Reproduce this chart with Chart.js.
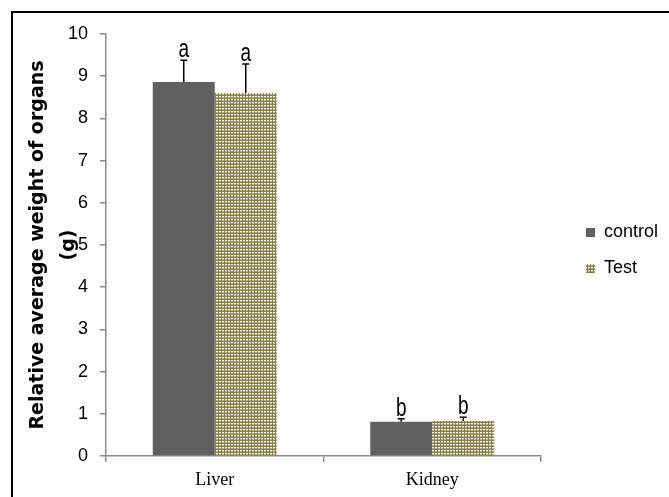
<!DOCTYPE html>
<html>
<head>
<meta charset="utf-8">
<script src="https://cdn.jsdelivr.net/npm/chart.js@4/dist/chart.umd.min.js"></script>
<style>
  html, body { margin: 0; padding: 0; background: #fff; overflow: hidden; }
  #moldura { position: absolute; left: 11px; top: 11px; width: 720px; height: 600px; border: 2px solid #000; }
  #caixa { position: absolute; left: 0; top: 0; width: 669px; height: 497px; }
</style>
</head>
<body>
<div id="moldura"></div>
<div id="caixa"><canvas id="grafico"></canvas></div>
<script>
// ------------------------
// Dados
// ------------------------

const categorias = ['Liver', 'Kidney'];
const valoresControl = [8.86, 0.81];
const valoresTest = [8.60, 0.83];
const errosControl = [0.52, 0.07];
const errosTest = [0.69, 0.09];
const letrasControl = ['a', 'b'];
const letrasTest = ['a', 'b'];
const tituloY = ['Relative average weight of organs', '(g)'];

// ------------------------
// Padrão pontilhado da série Test
// ------------------------

function criarPadrao() {
  const c = document.createElement('canvas');
  c.width = 3;
  c.height = 3;
  const g = c.getContext('2d');
  g.fillStyle = '#8a7f48';
  g.fillRect(0, 0, 3, 3);
  g.fillStyle = '#ffffff';
  g.fillRect(0, 0, 2, 1);
  g.fillStyle = '#b7af86';
  g.fillRect(0, 1, 2, 1);
  return g.createPattern(c, 'repeat');
}

const padraoTest = criarPadrao();

// ------------------------
// Barras de erro + letras
// ------------------------

const pluginErros = {
  id: 'barrasErro',
  afterInit(chart) {
    // legenda ocupa toda a faixa à direita
    const lg = chart.legend;
    const fitOriginal = lg.fit;
    lg.fit = function () {
      fitOriginal.call(this);
      this.width = 128;
    };
  },
  afterLayout(chart) {
    const lg = chart.legend;
    lg.left = chart.chartArea.right + 27;
    lg.top -= 15;
    lg.bottom -= 15;
  },
  afterDatasetsDraw(chart) {
    const ctx = chart.ctx;
    const y = chart.scales.y;
    const erros = [errosControl, errosTest];
    const letras = [letrasControl, letrasTest];
    const valores = [valoresControl, valoresTest];

    ctx.save();
    ctx.strokeStyle = '#000';
    ctx.lineWidth = 1.5;
    ctx.fillStyle = '#000';
    ctx.font = '19px "Liberation Sans", Arial, sans-serif';
    ctx.textAlign = 'center';
    ctx.textBaseline = 'alphabetic';

    chart.data.datasets.forEach((ds, i) => {
      const meta = chart.getDatasetMeta(i);
      meta.data.forEach((bar, j) => {
        const topo = y.getPixelForValue(valores[i][j] + erros[i][j]);
        ctx.beginPath();
        ctx.moveTo(bar.x, bar.y);
        ctx.lineTo(bar.x, topo);
        ctx.moveTo(bar.x - 3.5, topo);
        ctx.lineTo(bar.x + 3.5, topo);
        ctx.stroke();

        // letra esticada na vertical, como no original
        ctx.save();
        ctx.translate(bar.x, topo - 3);
        ctx.scale(1, 1.4);
        ctx.fillText(letras[i][j], 0, 0);
        ctx.restore();
      });
    });
    ctx.restore();
  }
};

// ------------------------
// Gráfico
// ------------------------

const ctx = document.getElementById('grafico').getContext('2d');
const grafico = new Chart(ctx, {
  type: 'bar',
  data: {
    labels: categorias,
    datasets: [
      {
        label: 'control',
        data: valoresControl,
        backgroundColor: '#606060',
        borderWidth: 0
      },
      {
        label: 'Test',
        data: valoresTest,
        backgroundColor: padraoTest,
        borderWidth: 0
      }
    ]
  },
  options: {
    responsive: true,
    maintainAspectRatio: false,
    animation: false,
    layout: { padding: { top: 34, right: 0, bottom: 0, left: 0 } },
    datasets: {
      bar: { categoryPercentage: 0.57, barPercentage: 1.0 }
    },
    plugins: {
      tooltip: { enabled: false },
      legend: {
        position: 'right',
        align: 'center',
        labels: {
          boxWidth: 9,
          boxHeight: 9,
          padding: 18,
          color: '#000',
          font: { family: '"Liberation Sans", Arial, sans-serif', size: 18 }
        }
      }
    },
    scales: {
      x: {
        offset: true,
        afterFit(scale) { scale.height = 41; },
        grid: {
          offset: true,
          drawOnChartArea: false,
          drawTicks: true,
          tickLength: 6,
          color: '#8c8c8c',
          lineWidth: 1.5
        },
        border: { color: '#8c8c8c', width: 1.5 },
        ticks: {
          color: '#000',
          padding: 7,
          font: { family: '"Liberation Serif", "Times New Roman", serif', size: 18 }
        }
      },
      y: {
        min: 0,
        max: 10,
        afterFit(scale) { scale.width = 106; },
        grid: {
          drawOnChartArea: false,
          drawTicks: true,
          tickLength: 6,
          color: '#8c8c8c',
          lineWidth: 1.5
        },
        border: { color: '#8c8c8c', width: 1.5 },
        ticks: {
          stepSize: 1,
          color: '#000',
          padding: 12,
          font: { family: '"Liberation Sans", Arial, sans-serif', size: 18 }
        },
        title: {
          display: true,
          text: tituloY,
          color: '#000',
          padding: { top: 22, bottom: 0 },
          font: { family: '"DejaVu Sans", sans-serif', size: 19, weight: 'bold', lineHeight: 1.65 }
        }
      }
    }
  },
  plugins: [pluginErros]
});
</script>
</body>
</html>
